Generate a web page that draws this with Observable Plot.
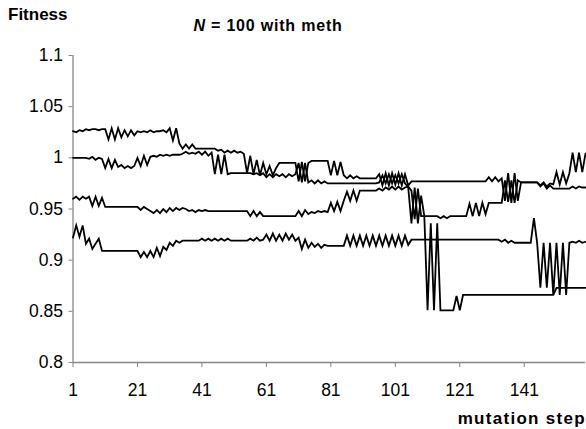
<!DOCTYPE html>
<html>
<head>
<meta charset="utf-8">
<script src="https://cdn.jsdelivr.net/npm/d3@7"></script>
<script src="https://cdn.jsdelivr.net/npm/@observablehq/plot@0.6"></script>
<style>
  html, body { margin: 0; padding: 0; background: #fff; }
  #chart { width: 586px; height: 429px; overflow: hidden; }
</style>
</head>
<body>
<div id="chart"></div>
<script>
// ---- data ----
const titleText = "N = 100 with meth";
const yLabel = "Fitness";
const xLabel = "mutation step";
const xTicks = [1, 21, 41, 61, 81, 101, 121, 141];
const yTicks = [0.8, 0.85, 0.9, 0.95, 1, 1.05, 1.1];

const seriesA = [
  1.026, 1.025, 1.027, 1.026, 1.028, 1.027, 1.028, 1.028, 1.027, 1.028,
  1.028, 1.018, 1.029, 1.018, 1.029, 1.020, 1.027, 1.021, 1.027, 1.022,
  1.026, 1.025, 1.026, 1.025, 1.027, 1.025, 1.026, 1.026, 1.027, 1.025,
  1.029, 1.017, 1.029, 1.014, 1.009, 1.013, 1.009, 1.013, 1.009, 1.009,
  1.009, 1.009, 1.009, 1.009, 1.009, 1.007, 1.008, 1.005, 1.007, 1.005,
  1.007, 1.005, 1.006, 1.004, 0.985, 1.002, 0.984, 0.998, 0.983, 0.995,
  0.984, 0.992, 0.983, 0.990, 0.995, 0.995, 0.995, 0.995, 0.995, 0.995,
  0.977, 0.996, 0.977, 0.995, 0.997, 0.997, 0.997, 0.997, 0.997, 0.997,
  0.983, 0.997, 0.983, 0.996, 0.983, 0.980, 0.983, 0.980, 0.982, 0.980,
  0.980, 0.980, 0.980, 0.980, 0.980, 0.984, 0.973, 0.985, 0.973, 0.985,
  0.974, 0.985, 0.973, 0.984, 0.973, 0.977, 0.977, 0.977, 0.977, 0.977,
  0.977, 0.977, 0.977, 0.977, 0.977, 0.977, 0.977, 0.977, 0.977, 0.977,
  0.977, 0.977, 0.977, 0.977, 0.977, 0.977, 0.977, 0.977, 0.977, 0.981,
  0.977, 0.981, 0.977, 0.980, 0.958, 0.985, 0.956, 0.985, 0.958, 0.976,
  0.976, 0.976, 0.976, 0.976, 0.976, 0.973, 0.976, 0.972, 0.975, 0.974,
  0.986, 0.974, 0.986, 0.975, 0.985, 1.005, 0.986, 1.005, 0.986, 1.004
];
const seriesB = [
  1.000, 1.000, 1.000, 1.000, 1.000, 0.999, 1.001, 0.998, 1.000, 0.999,
  0.990, 0.999, 0.990, 0.998, 0.991, 0.993, 0.990, 0.992, 0.990, 0.992,
  1.000, 0.992, 1.002, 0.993, 1.001, 1.002, 1.001, 1.003, 1.002, 1.003,
  1.002, 1.003, 1.003, 1.003, 1.004, 1.006, 1.004, 1.005, 1.004, 1.006,
  1.003, 1.006, 1.002, 1.005, 0.984, 1.003, 0.984, 1.003, 0.984, 0.985,
  0.985, 0.985, 0.985, 0.985, 0.985, 0.985, 0.984, 0.985, 0.983, 0.985,
  0.981, 0.984, 0.981, 0.984, 0.982, 0.984, 0.981, 0.984, 0.982, 0.984,
  0.995, 0.976, 0.995, 0.976, 0.978, 0.975, 0.978, 0.975, 0.977, 0.975,
  0.975, 0.975, 0.975, 0.975, 0.975, 0.975, 0.975, 0.975, 0.975, 0.975,
  0.975, 0.975, 0.975, 0.975, 0.975, 0.976, 0.983, 0.975, 0.984, 0.975,
  0.983, 0.975, 0.984, 0.975, 0.971, 0.936, 0.971, 0.936, 0.963, 0.943,
  0.851, 0.936, 0.851, 0.936, 0.851, 0.851, 0.851, 0.851, 0.851, 0.865,
  0.851, 0.866, 0.866, 0.866, 0.866, 0.866, 0.866, 0.866, 0.866, 0.866,
  0.866, 0.866, 0.866, 0.866, 0.866, 0.866, 0.866, 0.866, 0.866, 0.866,
  0.866, 0.866, 0.866, 0.866, 0.866, 0.866, 0.866, 0.866, 0.866, 0.866,
  0.873, 0.873, 0.873, 0.873, 0.873, 0.873, 0.873, 0.873, 0.873, 0.873
];
const seriesC = [
  0.960, 0.962, 0.959, 0.962, 0.960, 0.962, 0.953, 0.962, 0.953, 0.961,
  0.952, 0.952, 0.952, 0.952, 0.952, 0.952, 0.952, 0.952, 0.952, 0.952,
  0.952, 0.949, 0.952, 0.950, 0.948, 0.946, 0.949, 0.946, 0.950, 0.947,
  0.951, 0.948, 0.951, 0.949, 0.951, 0.950, 0.948, 0.949, 0.947, 0.949,
  0.948, 0.949, 0.948, 0.948, 0.948, 0.948, 0.948, 0.948, 0.948, 0.948,
  0.948, 0.948, 0.948, 0.948, 0.948, 0.943, 0.948, 0.943, 0.947, 0.943,
  0.943, 0.943, 0.943, 0.943, 0.943, 0.943, 0.943, 0.943, 0.943, 0.943,
  0.948, 0.943, 0.949, 0.945, 0.947, 0.946, 0.948, 0.947, 0.948, 0.947,
  0.956, 0.948, 0.957, 0.948, 0.958, 0.967, 0.958, 0.968, 0.958, 0.968,
  0.968, 0.968, 0.968, 0.968, 0.968, 0.970, 0.968, 0.971, 0.969, 0.972,
  0.969, 0.972, 0.969, 0.971, 0.972, 0.968, 0.940, 0.970, 0.943, 0.943,
  0.943, 0.943, 0.943, 0.943, 0.941, 0.943, 0.941, 0.943, 0.943, 0.943,
  0.943, 0.943, 0.943, 0.955, 0.943, 0.956, 0.943, 0.956, 0.945, 0.956,
  0.956, 0.956, 0.956, 0.956, 0.978, 0.957, 0.978, 0.956, 0.978, 0.976,
  0.976, 0.976, 0.976, 0.976, 0.976, 0.972, 0.975, 0.970, 0.973, 0.970,
  0.970, 0.970, 0.970, 0.970, 0.970, 0.972, 0.970, 0.972, 0.971, 0.971
];
const seriesD = [
  0.922, 0.934, 0.923, 0.934, 0.916, 0.921, 0.911, 0.916, 0.921, 0.909,
  0.909, 0.909, 0.909, 0.909, 0.909, 0.909, 0.909, 0.909, 0.909, 0.909,
  0.909, 0.903, 0.908, 0.903, 0.909, 0.903, 0.912, 0.904, 0.913, 0.910,
  0.917, 0.914, 0.919, 0.917, 0.919, 0.919, 0.919, 0.919, 0.919, 0.919,
  0.921, 0.919, 0.921, 0.919, 0.921, 0.919, 0.921, 0.919, 0.921, 0.919,
  0.919, 0.919, 0.919, 0.919, 0.919, 0.921, 0.919, 0.922, 0.919, 0.920,
  0.925, 0.919, 0.926, 0.919, 0.925, 0.919, 0.926, 0.920, 0.925, 0.919,
  0.922, 0.911, 0.920, 0.912, 0.917, 0.913, 0.916, 0.912, 0.915, 0.914,
  0.914, 0.914, 0.914, 0.914, 0.914, 0.924, 0.914, 0.924, 0.914, 0.924,
  0.914, 0.924, 0.914, 0.924, 0.914, 0.924, 0.914, 0.924, 0.914, 0.924,
  0.914, 0.924, 0.914, 0.924, 0.915, 0.920, 0.920, 0.920, 0.920, 0.920,
  0.920, 0.920, 0.920, 0.920, 0.920, 0.920, 0.920, 0.920, 0.920, 0.920,
  0.920, 0.920, 0.920, 0.920, 0.920, 0.920, 0.920, 0.920, 0.920, 0.920,
  0.920, 0.920, 0.920, 0.918, 0.920, 0.917, 0.919, 0.917, 0.917, 0.917,
  0.917, 0.917, 0.917, 0.941, 0.917, 0.873, 0.917, 0.873, 0.917, 0.866,
  0.917, 0.866, 0.917, 0.866, 0.917, 0.918, 0.917, 0.919, 0.917, 0.918
];

const seriesList = [["A", seriesA], ["B", seriesB], ["C", seriesC], ["D", seriesD]];
const rows = seriesList.flatMap(([name, vals]) =>
  vals.map((v, i) => ({series: name, step: i + 1, value: v})));

const W = 586, H = 429;
const axisGray = "#868686";
const font = "'Liberation Sans', Arial, sans-serif";

const chart = Plot.plot({
  width: W,
  height: H,
  marginLeft: 72.5,
  marginRight: 1,
  marginTop: 55,
  marginBottom: 67,
  style: {fontFamily: font, fontSize: "17.5px", color: "black", background: "white", overflow: "visible"},
  x: {domain: [1, 160], axis: null},
  y: {domain: [0.8, 1.1], axis: null},
  marks: [
    Plot.axisY({ticks: yTicks, tickSize: 4, tickPadding: 6, tickFormat: d => String(d),
      stroke: axisGray, fill: "black", label: null, anchor: "left", fontSize: 17.5}),
    Plot.axisX({ticks: xTicks, tickSize: 5, tickPadding: 16, tickFormat: d => String(d),
      stroke: axisGray, fill: "black", label: null, anchor: "bottom", fontSize: 17.5}),
    Plot.ruleX([1], {y1: 0.8, y2: 1.1, stroke: axisGray, strokeWidth: 1.3}),
    Plot.ruleY([0.8], {stroke: axisGray, strokeWidth: 1.3}),
    Plot.line(rows, {x: "step", y: "value", z: "series", stroke: "black", strokeWidth: 1.8, strokeLinejoin: "miter", strokeMiterlimit: 4})
  ]
});

document.getElementById("chart").appendChild(chart);

// titles as real SVG text
const svg = d3.select(chart);
svg.append("text")
  .attr("x", 8).attr("y", 20)
  .attr("text-anchor", "start")
  .attr("font-family", font).attr("font-size", 17).attr("font-weight", "bold")
  .attr("fill", "black")
  .text(yLabel);

const t = svg.append("text")
  .attr("x", 268).attr("y", 30.5)
  .attr("text-anchor", "middle")
  .attr("font-family", font).attr("font-size", 16).attr("font-weight", "bold")
  .attr("letter-spacing", "0.8px")
  .attr("fill", "black");
t.append("tspan").attr("font-style", "italic").text(titleText.slice(0, 1));
t.append("tspan").text(titleText.slice(1));

svg.append("text")
  .attr("x", 586).attr("y", 424)
  .attr("text-anchor", "end")
  .attr("font-family", font).attr("font-size", 17).attr("font-weight", "bold")
  .attr("letter-spacing", "1.3px")
  .attr("fill", "black")
  .text(xLabel);
</script>
</body>
</html>
